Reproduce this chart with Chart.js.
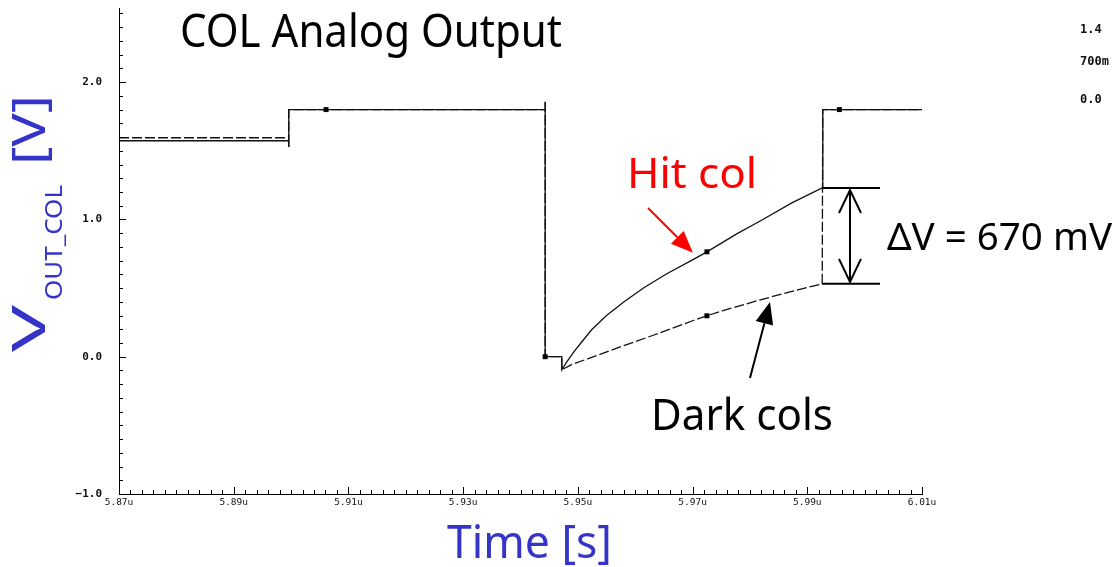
<!DOCTYPE html>
<html>
<head>
<meta charset="utf-8">
<script src="https://cdn.jsdelivr.net/npm/chart.js@4.4.1/dist/chart.umd.min.js"></script>
<style>
  html, body { margin: 0; padding: 0; background: #fff; }
  canvas { display: block; }
</style>
</head>
<body>
<canvas id="col_out" width="1112" height="567"></canvas>
<script>
// time in microseconds, voltage in volts
let hitT = [5.87, 5.8996, 5.8996, 5.8996, 5.9443, 5.9443, 5.9443, 5.9472, 5.9472, 5.9481, 5.9493, 5.9507,
    5.9524, 5.9550, 5.9580, 5.9615, 5.9655, 5.9700, 5.9725, 5.9777, 5.9821, 5.9873, 5.9926, 5.9927, 6.01];
let hitV = [1.573, 1.573, 1.527, 1.80, 1.80, 1.857, 0.0, 0.0, -0.095, -0.036, 0.036, 0.109,
    0.196, 0.300, 0.398, 0.502, 0.604, 0.705, 0.764, 0.895, 0.996, 1.120, 1.229, 1.80, 1.80];

let darkT = [5.87, 5.8996, 5.8996, 5.8996, 5.9443, 5.9443, 5.9443, 5.9472, 5.9472, 5.9489, 5.9517,
    5.9575, 5.9634, 5.9700, 5.9725, 5.9753, 5.9812, 5.9870, 5.9926, 5.9927, 6.01];
let darkV = [1.595, 1.595, 1.527, 1.80, 1.80, 1.857, 0.0, 0.0, -0.095, -0.058, -0.015,
    0.073, 0.160, 0.262, 0.298, 0.335, 0.407, 0.473, 0.531, 1.80, 1.80];

// little square markers the simulator puts on the traces
let markT = [5.9061, 5.9443, 5.9725, 5.9725, 5.9956];
let markV = [1.80, 0.0, 0.764, 0.298, 1.80];

// axis ticks
let xMajor = [5.87, 5.89, 5.91, 5.93, 5.95, 5.97, 5.99, 6.01];
let xLabels = ['5.87u', '5.89u', '5.91u', '5.93u', '5.95u', '5.97u', '5.99u', '6.01u'];
let xMinorStep = 0.002;
let yMajor = [-1, 0, 1, 2];
let yLabels = ['\u22121.0', '0.0', '1.0', '2.0'];
let yMinorStep = 0.1;

let blue = '#3434c8';

function pts(ts, vs) {
    return ts.map((t, i) => ({x: t, y: vs[i]}));
}
function majorIdx(list, v) {
    return list.findIndex(m => Math.abs(m - v) < 1e-6);
}
function buildTicks(min, max, step) {
    let out = [];
    let n = Math.round((max - min) / step);
    for (let k = 0; k <= n; k++) out.push({value: +(min + k * step).toFixed(4)});
    return out;
}

// text squeezed/stretched to a given width (the original uses a comic font)
function fitText(ctx, txt, x, y, w, size, color) {
    ctx.save();
    ctx.font = size + 'px "Noto Sans"';
    let m = ctx.measureText(txt).width;
    ctx.translate(x, y);
    ctx.scale(w / m, 1);
    ctx.fillStyle = color;
    ctx.textBaseline = 'alphabetic';
    ctx.textAlign = 'left';
    ctx.fillText(txt, 0, 0);
    ctx.restore();
}

function arrow(ctx, x1, y1, x2, y2, color, headLen, headW) {
    let a = Math.atan2(y2 - y1, x2 - x1);
    let bx = x2 - headLen * Math.cos(a), by = y2 - headLen * Math.sin(a);
    ctx.strokeStyle = color;
    ctx.fillStyle = color;
    ctx.lineWidth = 2;
    ctx.beginPath();
    ctx.moveTo(x1, y1);
    ctx.lineTo(bx, by);
    ctx.stroke();
    ctx.beginPath();
    ctx.moveTo(x2, y2);
    ctx.lineTo(bx + headW / 2 * Math.sin(a), by - headW / 2 * Math.cos(a));
    ctx.lineTo(bx - headW / 2 * Math.sin(a), by + headW / 2 * Math.cos(a));
    ctx.closePath();
    ctx.fill();
}

const extras = {
    id: 'extras',
    afterDraw(chart) {
        const ctx = chart.ctx;
        const xs = chart.scales.x, ys = chart.scales.y;
        const area = chart.chartArea;
        ctx.save();

        // inward tick marks
        ctx.strokeStyle = '#000';
        ctx.lineWidth = 1;
        xs.ticks.forEach(t => {
            let px = Math.round(xs.getPixelForValue(t.value)) + 0.5;
            let len = majorIdx(xMajor, t.value) >= 0 ? 7 : 4;
            ctx.beginPath();
            ctx.moveTo(px, area.bottom);
            ctx.lineTo(px, area.bottom - len);
            ctx.stroke();
        });
        ys.ticks.forEach(t => {
            let py = Math.round(ys.getPixelForValue(t.value)) + 0.5;
            let len = majorIdx(yMajor, t.value) >= 0 ? 7 : 4;
            ctx.beginPath();
            ctx.moveTo(area.left, py);
            ctx.lineTo(area.left + len, py);
            ctx.stroke();
        });

        // titles
        fitText(ctx, 'COL Analog Output', 180, 47, 382, 45, '#000');
        fitText(ctx, 'Time [s]', 447, 558, 165, 46, blue);

        // y title with subscript, rotated
        ctx.save();
        ctx.translate(45, 352);
        ctx.rotate(-Math.PI / 2);
        fitText(ctx, 'V', 0, 0, 47, 46, blue);
        fitText(ctx, 'OUT_COL', 52, 17, 115, 24, blue);
        fitText(ctx, '[V]', 187, 0, 70, 46, blue);
        ctx.restore();

        // annotations
        let xEnd = xs.getPixelForValue(hitT[hitT.length - 3]);
        let yHit = ys.getPixelForValue(hitV[hitV.length - 3]);
        let yDark = ys.getPixelForValue(darkV[darkV.length - 3]);
        let yHitMark = ys.getPixelForValue(markV[2]);
        let xMark = xs.getPixelForValue(markT[2]);

        fitText(ctx, 'Hit col', 627, 188, 130, 42, '#ff0000');
        arrow(ctx, 648, 208, xMark - 14, yHitMark + 1, '#ff0000', 22, 18);

        fitText(ctx, 'Dark cols', 651, 430, 182, 44, '#000');
        arrow(ctx, 750, 378, 770, 302, '#000', 22, 18);

        // delta V bracket
        ctx.strokeStyle = '#000';
        ctx.lineWidth = 2;
        ctx.beginPath();
        ctx.moveTo(xEnd, yHit); ctx.lineTo(880, yHit);
        ctx.moveTo(xEnd, yDark); ctx.lineTo(880, yDark);
        ctx.moveTo(850, yHit + 2); ctx.lineTo(850, yDark - 2);
        ctx.moveTo(839, yHit + 25); ctx.lineTo(850, yHit + 2); ctx.lineTo(861, yHit + 25);
        ctx.moveTo(839, yDark - 25); ctx.lineTo(850, yDark - 2); ctx.lineTo(861, yDark - 25);
        ctx.stroke();
        fitText(ctx, '\u0394V = 670 mV', 887, 250, 225, 38, '#000');

        // labels of the neighbouring plot, cut by the edge
        ctx.font = 'bold 12px "DejaVu Sans Mono"';
        ctx.fillStyle = '#111';
        ctx.textBaseline = 'middle';
        ctx.fillText('1.4', 1080, 30);
        ctx.fillText('700m', 1080, 62);
        ctx.fillText('0.0', 1080, 100);

        ctx.restore();
    }
};

let col_out = document.getElementById('col_out').getContext('2d');
new Chart(col_out, {
    type: 'line',
    data: {
        datasets: [
            {
                label: 'markers',
                data: pts(markT, markV),
                showLine: false,
                pointStyle: 'rect',
                pointRadius: 3.5,
                pointBackgroundColor: '#000',
                pointBorderWidth: 0,
            },
            {
                label: 'Hit col',
                data: pts(hitT, hitV),
                borderColor: '#111',
                borderWidth: 1.3,
                pointRadius: 0,
                tension: 0,
            },
            {
                label: 'Dark cols',
                data: pts(darkT, darkV),
                borderColor: '#111',
                borderWidth: 1.3,
                borderDash: [10, 3],
                pointRadius: 0,
                tension: 0,
            }
        ],
    },
    options: {
        responsive: false,
        animation: false,
        layout: {
            padding: {left: 0, right: 190, top: 8, bottom: 0}
        },
        plugins: {
            legend: {display: false},
            tooltip: {enabled: false},
        },
        scales: {
            x: {
                type: 'linear',
                min: 5.87,
                max: 6.01,
                afterBuildTicks: s => { s.ticks = buildTicks(5.87, 6.01, xMinorStep); },
                afterFit: s => { s.height = 73; s.paddingLeft = 0; s.paddingRight = 0; },
                grid: {display: false, drawTicks: false},
                border: {display: true, color: '#000', width: 1},
                ticks: {
                    autoSkip: false,
                    maxRotation: 0,
                    padding: 3,
                    color: '#111',
                    font: {family: '"DejaVu Sans Mono"', size: 9.5},
                    callback: v => {
                        let i = majorIdx(xMajor, v);
                        return i >= 0 ? xLabels[i] : '';
                    }
                }
            },
            y: {
                type: 'linear',
                min: -1.0,
                max: 2.54,
                afterBuildTicks: s => { s.ticks = buildTicks(-1.0, 2.5, yMinorStep); },
                afterFit: s => { s.width = 119; s.paddingTop = 0; s.paddingBottom = 0; },
                grid: {display: false, drawTicks: false},
                border: {display: true, color: '#000', width: 1},
                ticks: {
                    autoSkip: false,
                    padding: 17,
                    color: '#111',
                    font: {family: '"DejaVu Sans Mono"', size: 11, weight: 'bold'},
                    callback: v => {
                        let i = majorIdx(yMajor, v);
                        return i >= 0 ? yLabels[i] : '';
                    }
                }
            }
        }
    },
    plugins: [extras]
});
</script>
</body>
</html>
